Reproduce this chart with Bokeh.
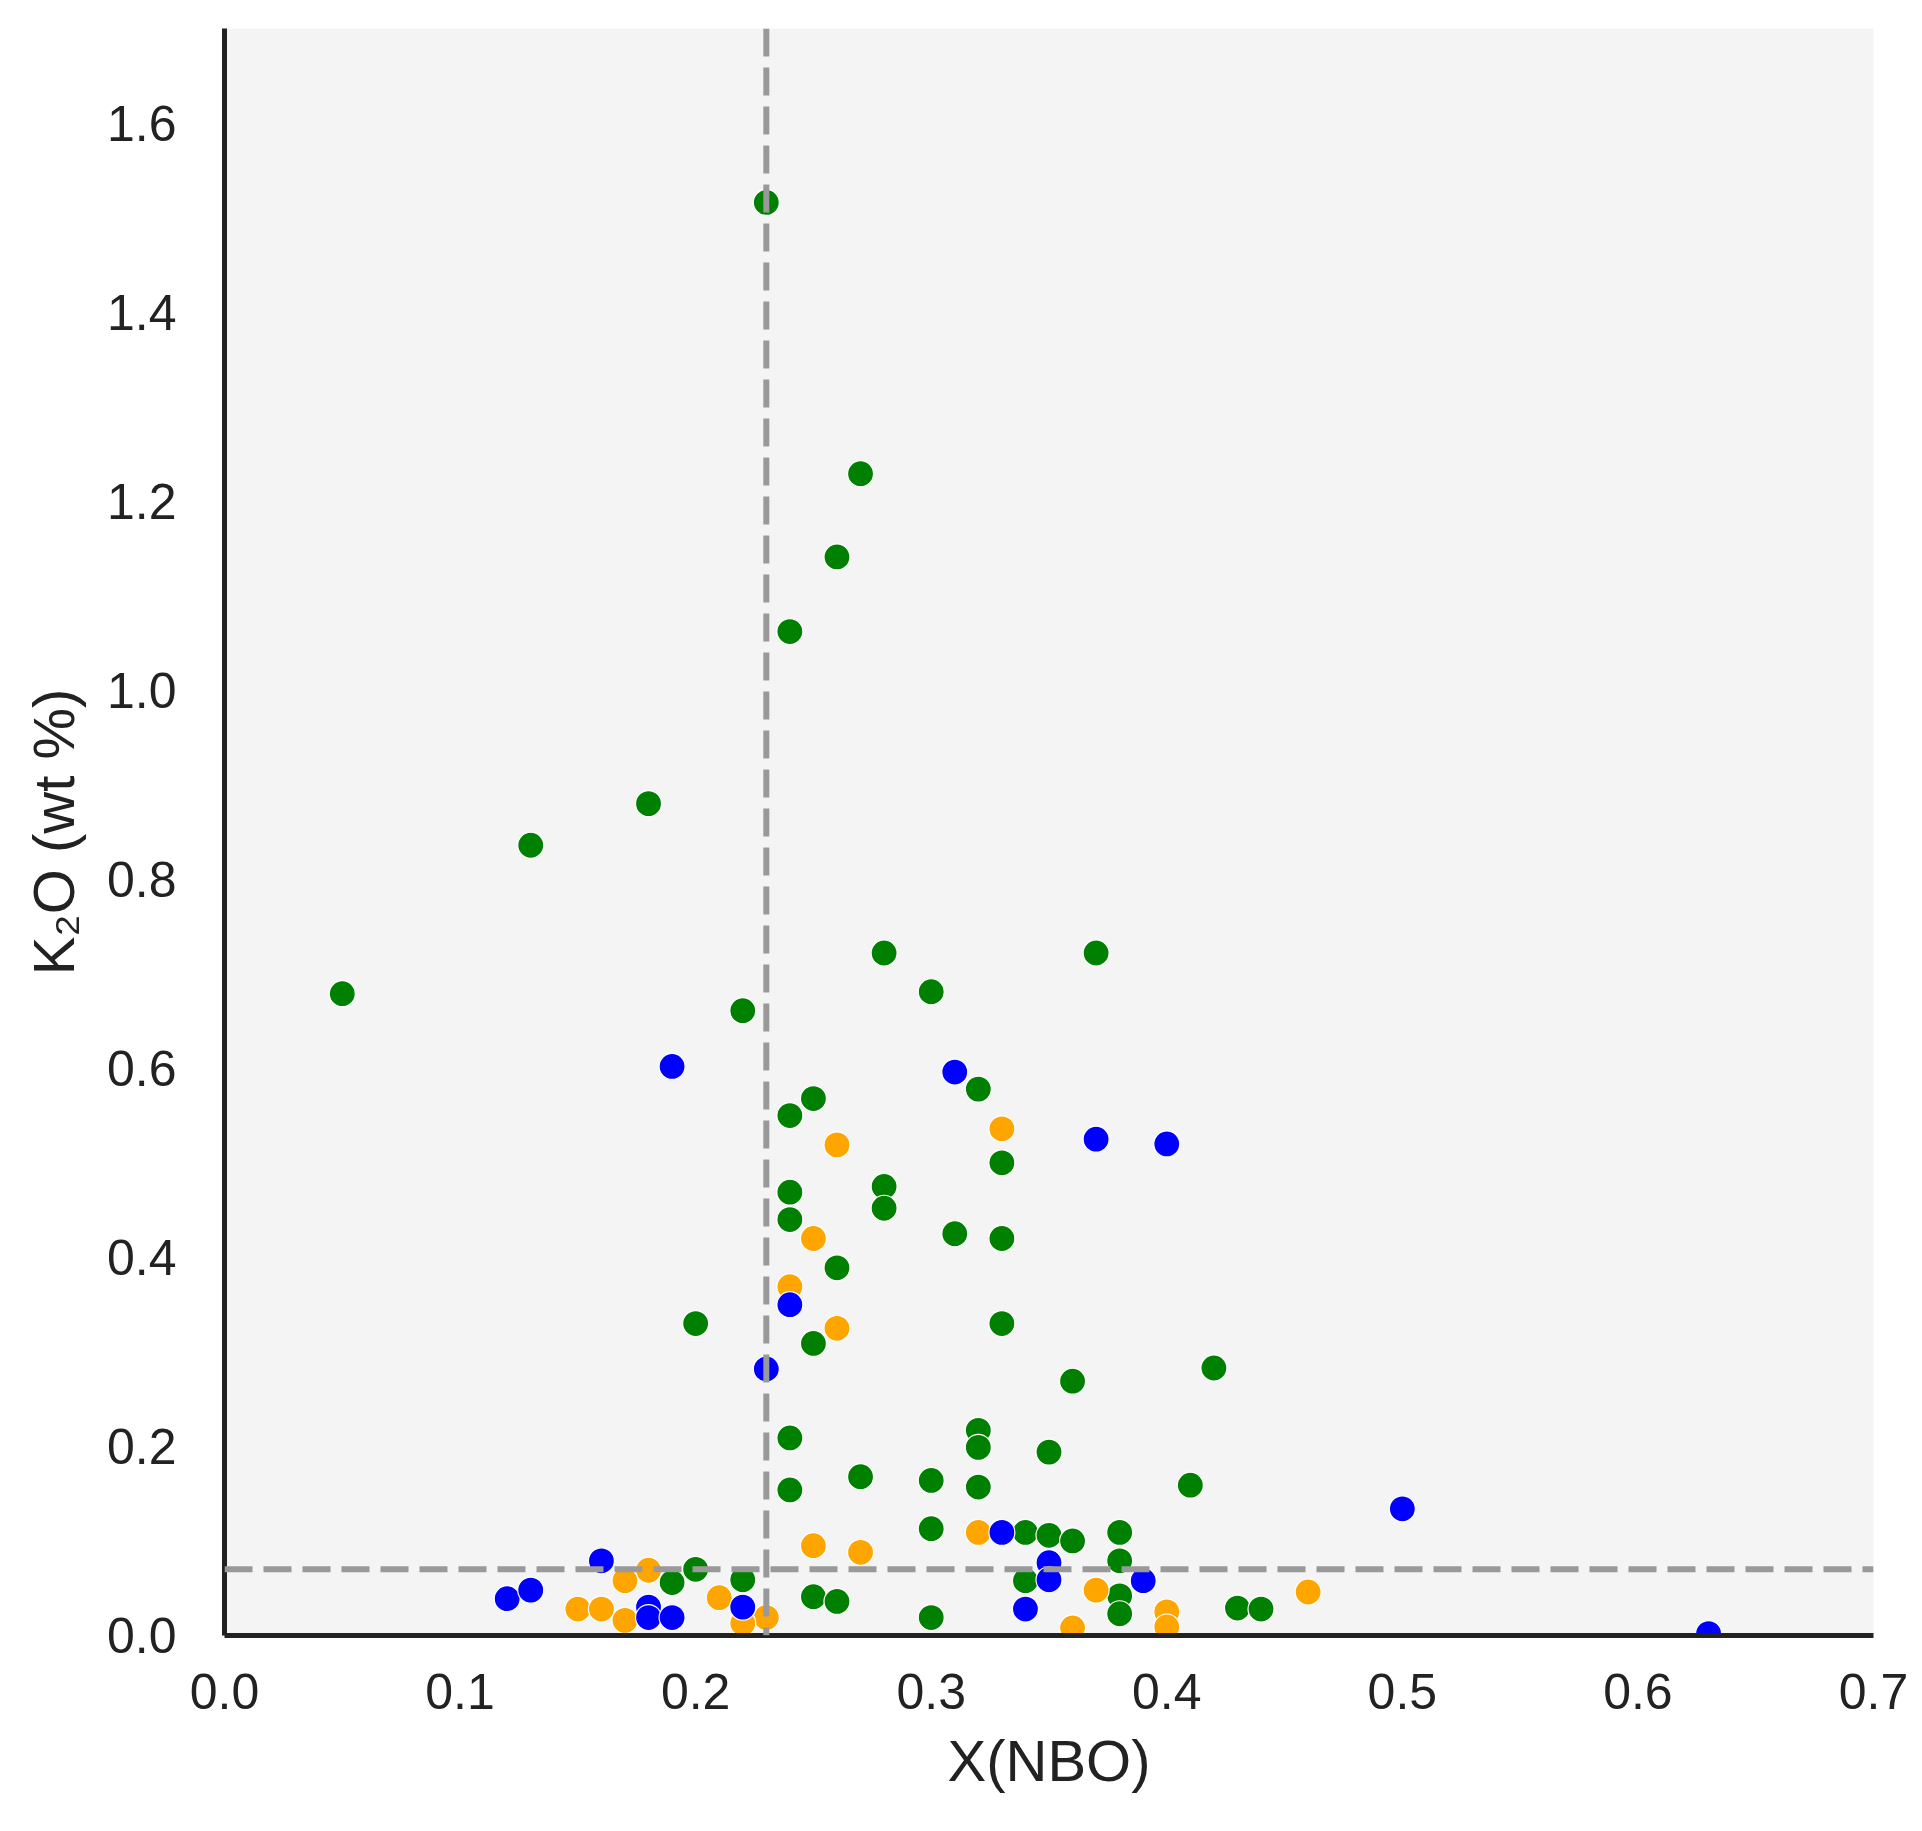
from bokeh.plotting import figure
from bokeh.models import Span, Range1d, FixedTicker
from bokeh.embed import file_html
from bokeh.resources import INLINE

# ---- data ----
green_x = [0.23, 0.27, 0.26, 0.24, 0.18, 0.13, 0.05, 0.28, 0.37, 0.30, 0.22,
           0.32, 0.25, 0.24, 0.33, 0.24, 0.28, 0.28, 0.24, 0.31, 0.33, 0.26,
           0.20, 0.33, 0.25, 0.42, 0.36, 0.24, 0.32, 0.32, 0.35, 0.27, 0.30,
           0.32, 0.41, 0.24, 0.30, 0.34, 0.35, 0.36, 0.38, 0.38, 0.20, 0.19,
           0.22, 0.25, 0.26, 0.30, 0.34, 0.38, 0.38, 0.43, 0.44]
green_y = [1.516, 1.229, 1.141, 1.062, 0.880, 0.836, 0.679, 0.722, 0.722, 0.681, 0.661,
           0.578, 0.568, 0.550, 0.500, 0.469, 0.475, 0.452, 0.440, 0.425, 0.420, 0.389,
           0.330, 0.330, 0.309, 0.283, 0.269, 0.209, 0.217, 0.199, 0.194, 0.168, 0.164,
           0.157, 0.159, 0.154, 0.113, 0.109, 0.106, 0.100, 0.109, 0.079, 0.070, 0.056,
           0.059, 0.041, 0.036, 0.019, 0.058, 0.042, 0.023, 0.029, 0.028]

orange_x = [0.33, 0.26, 0.25, 0.24, 0.26, 0.25, 0.27, 0.32, 0.18, 0.21, 0.23,
            0.22, 0.15, 0.16, 0.17, 0.17, 0.37, 0.36, 0.40, 0.40, 0.46]
orange_y = [0.536, 0.519, 0.420, 0.369, 0.325, 0.095, 0.088, 0.109, 0.069, 0.040, 0.019,
            0.013, 0.028, 0.028, 0.058, 0.016, 0.048, 0.008, 0.025, 0.009, 0.046]

blue_x = [0.19, 0.31, 0.37, 0.40, 0.24, 0.23, 0.50, 0.33, 0.16, 0.12, 0.13,
          0.18, 0.18, 0.19, 0.22, 0.35, 0.35, 0.34, 0.39, 0.63]
blue_y = [0.602, 0.596, 0.525, 0.520, 0.350, 0.282, 0.134, 0.109, 0.079, 0.039, 0.048,
          0.030, 0.019, 0.019, 0.030, 0.077, 0.059, 0.028, 0.058, 0.002]

x_nbo_threshold = 0.23
k2o_threshold = 0.07

x_ticks = [0.0, 0.1, 0.2, 0.3, 0.4, 0.5, 0.6, 0.7]
x_tick_labels = ["0.0", "0.1", "0.2", "0.3", "0.4", "0.5", "0.6", "0.7"]
y_ticks = [0.0, 0.2, 0.4, 0.6, 0.8, 1.0, 1.2, 1.4, 1.6]
y_tick_labels = ["0.0", "0.2", "0.4", "0.6", "0.8", "1.0", "1.2", "1.4", "1.6"]

FONT = "Liberation Sans"
TXT = "#222222"

p = figure(frame_width=1649, frame_height=1607,
           x_range=Range1d(0, 0.7), y_range=Range1d(0, 1.7),
           output_backend="svg", toolbar_location=None,
           min_border_left=224, min_border_top=28,
           min_border_right=35, min_border_bottom=183)

p.background_fill_color = "#f4f4f4"
p.border_fill_color = "white"
p.outline_line_color = None
p.xgrid.visible = False
p.ygrid.visible = False

for ax, ticks, labels in ((p.xaxis[0], x_ticks, x_tick_labels), (p.yaxis[0], y_ticks, y_tick_labels)):
    ax.ticker = FixedTicker(ticks=ticks)
    ax.major_label_overrides = {t: l for t, l in zip(ticks, labels)}
    ax.major_tick_line_color = None
    ax.minor_tick_line_color = None
    ax.major_tick_out = 0
    ax.major_tick_in = 0
    ax.axis_line_color = "#222222"
    ax.axis_line_width = 5
    ax.major_label_text_font = FONT
    ax.major_label_text_font_size = "50px"
    ax.major_label_text_color = TXT
    ax.axis_label_text_font = FONT
    ax.axis_label_text_font_size = "58px"
    ax.axis_label_text_font_style = "normal"
    ax.axis_label_text_color = TXT

p.xaxis.axis_label = "X(NBO)"
p.yaxis.axis_label = "K\u2082O (wt %)"
p.xaxis.major_label_standoff = 38
p.yaxis.major_label_standoff = 48
p.xaxis.axis_label_standoff = 16
p.yaxis.axis_label_standoff = 18

common = dict(size=26, line_color="white", line_width=1.2)
p.scatter(green_x, green_y, fill_color="green", **common)
p.scatter(orange_x, orange_y, fill_color="orange", **common)
p.scatter(blue_x, blue_y, fill_color="blue", **common)

dash = dict(line_color="#999999", line_width=6, line_dash="28 11")
p.add_layout(Span(location=x_nbo_threshold, dimension="height", **dash))
p.add_layout(Span(location=k2o_threshold, dimension="width", **dash))

open("out.html", "w").write(file_html(p, INLINE))
